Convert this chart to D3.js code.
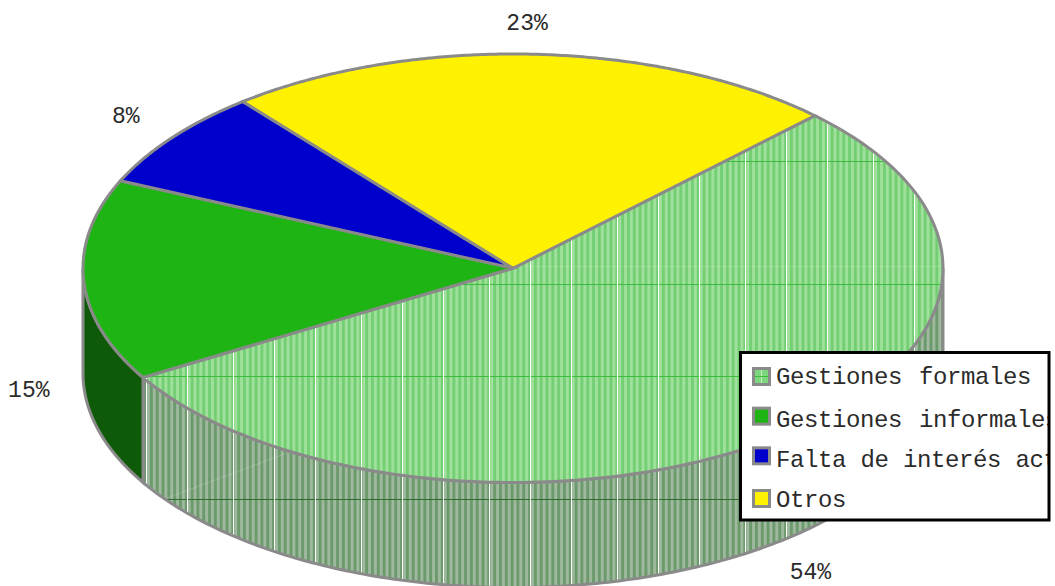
<!DOCTYPE html>
<html>
<head>
<meta charset="utf-8">
<script src="https://cdnjs.cloudflare.com/ajax/libs/d3/7.8.5/d3.min.js"></script>
<style>
html,body{margin:0;padding:0;background:#fff;overflow:hidden}
text{font-family:"Liberation Mono","DejaVu Sans Mono",monospace;fill:#2b2b2b}
</style>
</head>
<body>
<svg id="c" width="1055" height="586"></svg>
<script>
const categories = ["Gestiones formales", "Gestiones informales", "Falta de interés actual", "Otros"];
const values = [54.1, 15.2, 7.5, 23.2];

const topColors = ["url(#texTop)", "#1eb514", "#0000cc", "#fff200"];
const wallColors = ["url(#texWall)", "#0f5a09", "#000066", "#807900"];
const keyColors = ["url(#texKey)", "#1eb514", "#0000cc", "#fff200"];
const labelNudge = [[-2, 3], [1, 3], [-2, 1], [-10, 5]];
const legendRowNudge = [0, 2, 1, 0];
const keyRowNudge = [0, -1, -2, 0];
const legendWordSpacing = [3, 3, 0.5, 0];

const svg = d3.select("#c");
const defs = svg.append("defs");
const gray = "#8a8a8a";

const sx = d3.scaleLinear().domain([-1, 1]).range([83, 943]);
const sy = d3.scaleLinear().domain([-1, 1]).range([54, 482.5]);
const depth = 105;

function texture(id, dark, light, hline, vline) {
  const period = 128 / 22;
  const p = defs.append("pattern").attr("id", id).attr("patternUnits", "userSpaceOnUse")
    .attr("x", 146).attr("y", 161).attr("width", 128).attr("height", 215);
  p.append("rect").attr("width", 128).attr("height", 215).attr("fill", dark);
  p.selectAll("rect.s").data(d3.range(22)).join("rect").attr("class", "s")
    .attr("x", d => 1 + d * period).attr("width", period / 2).attr("height", 215).attr("fill", light);
  p.selectAll("rect.h").data([0, 123]).join("rect").attr("class", "h")
    .attr("y", d => d).attr("width", 128).attr("height", 1).attr("fill", hline);
  p.selectAll("rect.v").data([0, 41, 87]).join("rect").attr("class", "v")
    .attr("x", d => d).attr("width", 1).attr("height", 215).attr("fill", vline);
}
texture("texTop", "#74cf74", "#9fe09b", "#3dbb3d", "#ffffff");
texture("texWall", "#6c9a6c", "#9fb99f", "#2f6b2f", "#ffffff");

const key = defs.append("pattern").attr("id", "texKey").attr("patternUnits", "userSpaceOnUse")
  .attr("x", 752).attr("y", 367).attr("width", 18).attr("height", 18);
key.append("rect").attr("width", 18).attr("height", 18).attr("fill", "#7ed67e");
key.append("rect").attr("x", 9).attr("width", 1).attr("height", 18).attr("fill", "#c9efc9");
key.append("rect").attr("y", 9).attr("width", 18).attr("height", 1).attr("fill", "#3dbb3d");

const pie = d3.pie().sort(null).startAngle(44.6 * Math.PI / 180).endAngle((44.6 + 360) * Math.PI / 180);
const arcs = pie(values);
const th = a => a - Math.PI / 2;
const rim = (t, dy = 0) => [sx(Math.cos(t)), sy(Math.sin(t)) + dy];
const line = d3.line();
const samples = (t0, t1, dy) => d3.range(0, 181).map(i => rim(t0 + (t1 - t0) * i / 180, dy));

// side walls
const wallG = svg.append("g");
arcs.forEach((d, i) => {
  let t0 = Math.max(th(d.startAngle), 0), t1 = Math.min(th(d.endAngle), Math.PI);
  if (t1 <= t0) return;
  const pts = samples(t0, t1, 0).concat(samples(t1, t0, depth));
  const path = line(pts) + "Z";
  wallG.append("path").attr("d", path).attr("fill", wallColors[i])
    .attr("stroke", gray).attr("stroke-width", 3).attr("stroke-linejoin", "miter");
  if (i === 0) {
    wallG.append("line").attr("x1", 167).attr("y1", 498).attr("x2", 287).attr("y2", 453)
      .attr("stroke", "#fff").attr("stroke-opacity", 0.18);
  }
});

// top slices
const topG = svg.append("g");
arcs.forEach((d, i) => {
  const t0 = th(d.startAngle), t1 = th(d.endAngle);
  const pts = [[sx(0), sy(0)]].concat(samples(t0, t1, 0));
  const path = line(pts) + "Z";
  topG.append("path").attr("d", path).attr("fill", topColors[i])
    .attr("stroke", gray).attr("stroke-width", 3).attr("stroke-linejoin", "miter");
  if (i === 0) {
    topG.append("line").attr("x1", 525).attr("y1", 266.5).attr("x2", 941).attr("y2", 266.5)
      .attr("stroke", "#fff").attr("stroke-opacity", 0.15);
  }
});

// percentage labels
const lx = d3.scaleLinear().domain([-1, 1]).range([513 - 486, 513 + 486]);
const ly = d3.scaleLinear().domain([-1, 1]).range([267.5 - 250, 267.5 + 250]);
arcs.forEach((d, i) => {
  const m = th((d.startAngle + d.endAngle) / 2);
  const down = Math.sin(m) > 0 ? depth : 0;
  svg.append("text")
    .attr("x", lx(Math.cos(m)) + labelNudge[i][0])
    .attr("y", ly(Math.sin(m)) + down + labelNudge[i][1] + 7)
    .attr("text-anchor", "middle").attr("font-size", 23)
    .text(Math.round(values[i]) + "%");
});

// legend
defs.append("clipPath").attr("id", "legClip").append("rect")
  .attr("x", 740).attr("y", 352).attr("width", 308).attr("height", 168);
const keyY = d3.scalePoint().domain(categories).range([367, 489]);
const baseY = d3.scalePoint().domain(categories).range([384, 507]);
svg.append("rect").attr("x", 740.5).attr("y", 352.5).attr("width", 308.5).attr("height", 167.5)
  .attr("fill", "#fff").attr("stroke", "none");
const leg = svg.append("g").attr("clip-path", "url(#legClip)");
categories.forEach((c, i) => {
  leg.append("rect").attr("x", 753.5).attr("y", keyY(c) + keyRowNudge[i] + 1.5).attr("width", 16).attr("height", 16)
    .attr("fill", keyColors[i]).attr("stroke", gray).attr("stroke-width", 3);
  leg.append("text").attr("x", 776).attr("y", baseY(c) + legendRowNudge[i])
    .attr("font-size", 24).attr("letter-spacing", -0.4)
    .attr("word-spacing", legendWordSpacing[i]).text(c);
});
svg.append("rect").attr("x", 740.5).attr("y", 352.5).attr("width", 308.5).attr("height", 167.5)
  .attr("fill", "none").attr("stroke", "#000").attr("stroke-width", 3);
</script>
</body>
</html>
